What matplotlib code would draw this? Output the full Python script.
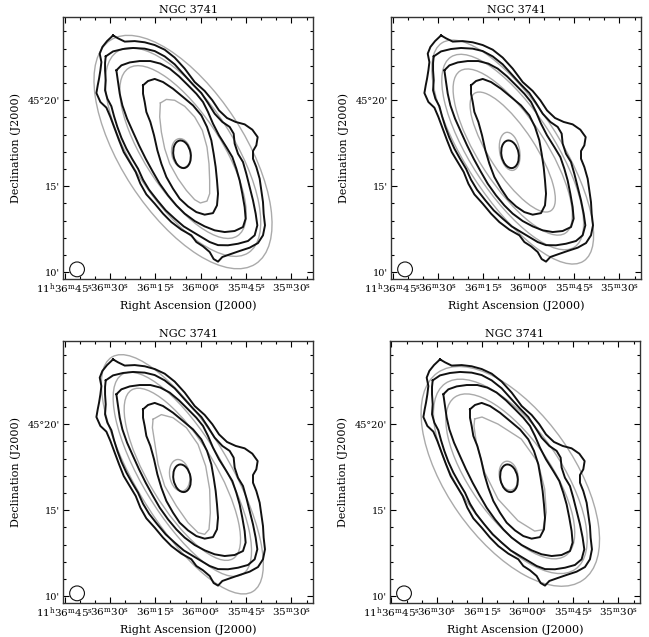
import numpy as np
import matplotlib
matplotlib.use("Agg")
import matplotlib.pyplot as plt
from matplotlib.patches import Ellipse, Circle
from matplotlib.ticker import MultipleLocator

# RA in seconds of time relative to 11h36m00s, Dec in arcmin above +45d00'
DEC0 = 45.28
SEC_TO_ARCMIN = 15 * np.cos(np.radians(DEC0)) / 60

RA_TICKS = [45, 30, 15, 0, -15, -30]
RA_LABELS = [r"11$^{\rm h}$36$^{\rm m}$45$^{\rm s}$", r"36$^{\rm m}$30$^{\rm s}$",
             r"36$^{\rm m}$15$^{\rm s}$", r"36$^{\rm m}$00$^{\rm s}$",
             r"35$^{\rm m}$45$^{\rm s}$", r"35$^{\rm m}$30$^{\rm s}$"]
DEC_TICKS = [10, 15, 20]
DEC_LABELS = ["10'", "15'", "45\u00b020'"]
RA_LIM = (45.47, -37.1)
DEC_LIM = (9.61, 24.84)

# observed HI contours (same in every panel)
OBS1_RA = [28.96, 27.31, 25.10, 21.80, 18.50, 15.19, 11.89, 8.59, 5.28, 1.98, -1.32, -3.85,
           -6.06, -8.70, -11.56, -14.53, -17.07, -18.83, -18.39, -17.29, -17.29, -18.39,
           -19.49, -20.04, -20.59, -20.81, -21.25, -20.59, -18.94, -16.18, -12.88, -9.58,
           -7.16, -5.73, -4.29, -2.97, -0.77, 1.43, 3.08, 6.39, 9.69, 12.44, 15.19, 17.95,
           19.93, 21.47, 23.45, 25.43, 26.97, 28.41, 29.84, 31.16, 33.14, 34.46, 34.02,
           33.58, 33.14, 32.81, 33.36, 32.48, 30.94]
OBS1_DEC = [23.77, 23.60, 23.41, 23.44, 23.37, 23.21, 22.94, 22.48, 21.84, 21.06, 20.54, 20.00,
            19.41, 18.97, 18.74, 18.60, 18.29, 17.86, 17.38, 17.05, 16.60, 16.12,
            15.44, 14.76, 14.08, 13.41, 12.73, 12.15, 11.70, 11.43, 11.24, 11.04,
            10.89, 10.62, 10.77, 11.18, 11.51, 11.76, 12.15, 12.48, 12.92, 13.41, 13.99, 14.53,
            15.15, 15.83, 16.41, 16.99, 17.67, 18.35, 19.03, 19.57, 19.90, 20.42, 20.87,
            21.26, 21.74, 22.22, 22.71, 23.10, 23.44]

OBS2_RA = [31.38, 28.96, 25.65, 22.35, 18.50, 15.19, 11.89, 8.59, 5.62, 2.53, -0.22, -2.42,
           -4.62, -7.16, -9.58, -10.90, -11.23, -12.33, -13.98, -15.08, -16.18, -17.29,
           -18.17, -18.72, -17.84, -15.63, -12.33, -9.03, -5.73, -2.97, -0.22, 2.53, 5.62,
           8.59, 11.56, 14.31, 17.07, 19.05, 20.70, 22.68, 24.55, 26.20, 27.53, 28.63,
           29.51, 30.83, 31.60, 31.38, 31.60, 31.60]
OBS2_DEC = [22.55, 22.84, 22.98, 23.04, 23.00, 22.86, 22.55, 22.09, 21.51, 20.91, 20.42, 19.84,
            19.22, 18.74, 18.45, 18.06, 17.48, 16.89, 16.41, 15.73, 14.96, 14.18,
            13.41, 12.73, 12.15, 11.82, 11.66, 11.57, 11.58, 11.76, 12.05, 12.34, 12.67,
            13.12, 13.60, 14.18, 14.80, 15.38, 16.02, 16.60, 17.19, 17.82, 18.45, 19.07,
            19.65, 20.09, 20.58, 21.16, 21.74, 22.17]

OBS3_RA = [27.86, 26.20, 23.45, 20.15, 16.63, 13.32, 10.24, 7.16, 4.18, 1.43, -0.77, -2.42,
           -4.07, -6.06, -8.48, -10.46, -11.78, -12.88, -13.76, -14.53, -14.86, -13.98,
           -11.23, -7.93, -4.62, -1.32, 1.98, 5.28, 8.04, 10.79, 13.54, 15.96, 18.17,
           20.37, 22.35, 24.33, 25.87, 26.75, 27.31]
OBS3_DEC = [21.74, 22.03, 22.20, 22.28, 22.28, 22.13, 21.84, 21.39, 20.87, 20.38, 19.90, 19.32,
            18.64, 17.96, 17.28, 16.70, 16.02, 15.34, 14.57, 13.79, 13.12, 12.63,
            12.40, 12.34, 12.44, 12.67, 12.98, 13.41, 13.89, 14.47, 15.15, 15.89, 16.60,
            17.38, 18.15, 18.93, 19.70, 20.38, 21.06]

OBS4_RA = [19.05, 17.40, 15.19, 12.44, 9.14, 5.84, 2.53, -0.22, -2.09, -3.52, -4.29, -4.95,
           -5.39, -5.73, -5.39, -4.07, -1.32, 1.43, 4.18, 6.94, 9.14, 11.34, 12.99, 14.31,
           15.41, 16.63, 17.95, 18.50, 19.05]
OBS4_DEC = [20.87, 21.12, 21.24, 21.06, 20.67, 20.19, 19.70, 19.12, 18.45, 17.67, 16.89, 16.12,
            15.34, 14.57, 13.89, 13.44, 13.35, 13.50, 13.83, 14.28, 14.86, 15.54, 16.31, 17.09,
            17.96, 18.74, 19.32, 19.90, 20.38]

# innermost observed contour: centre RA (s), Dec ('), semi-major ('), semi-minor ('), PA (deg)
OBS_CORE = (6.17, 16.86, 0.81, 0.50, 10)

# model contours per panel: ellipses (RA, Dec, a, b, PA) plus the inner boxy contour
MODEL1_ELLIPSES = [(5.84, 16.99, 7.75, 3.57, 33), (5.84, 16.99, 6.98, 2.91, 33),
                   (5.84, 16.99, 5.81, 2.23, 33), (6.39, 16.93, 0.85, 0.56, 10)]
MODEL1_INNER_RA = [13.32, 11.34, 8.59, 5.28, 1.98, -0.55, -2.09, -2.75, -2.97, -2.97, -2.09,
                   0.11, 1.98, 4.73, 7.49, 10.24, 11.89, 12.99, 13.54]
MODEL1_INNER_DEC = [19.84, 20.05, 20.00, 19.65, 19.03, 18.25, 17.28, 16.31, 15.34, 14.57, 14.14,
                    14.03, 14.22, 14.76, 15.44, 16.31, 17.19, 18.15, 19.03]

MODEL2_ELLIPSES = [(5.28, 16.99, 7.56, 2.71, 33), (5.28, 16.99, 6.59, 2.42, 33),
                   (5.28, 16.99, 5.62, 1.94, 33), (5.28, 16.99, 4.07, 1.32, 33),
                   (6.28, 17.03, 1.12, 0.58, 10)]

MODEL3_ELLIPSES = [(6.06, 17.09, 7.95, 2.71, 31), (6.06, 17.09, 6.78, 2.33, 31),
                   (6.06, 17.09, 5.72, 1.94, 31), (6.94, 17.03, 0.93, 0.58, 10)]
MODEL3_INNER_RA = [15.74, 12.99, 9.14, 4.73, 0.88, -1.65, -2.97, -3.19, -2.75, -1.32, 0.88,
                   4.18, 8.04, 11.89, 14.09, 15.19, 15.96]
MODEL3_INNER_DEC = [20.29, 20.56, 20.38, 19.80, 18.83, 17.57, 16.22, 14.86, 13.89, 13.60, 13.70,
                    14.28, 15.25, 16.41, 17.67, 18.93, 19.80]

MODEL4_ELLIPSES = [(5.73, 16.97, 7.36, 3.68, 35), (5.73, 16.97, 6.59, 2.91, 35),
                   (5.73, 16.97, 5.62, 2.33, 35), (6.28, 17.01, 0.85, 0.54, 10)]
MODEL4_INNER_RA = [17.51, 15.08, 9.80, 2.09, -3.41, -5.62, -6.17, -5.06, -2.31, 3.19, 9.80,
                   14.20, 16.96, 17.73]
MODEL4_INNER_DEC = [20.31, 20.42, 20.01, 19.14, 17.79, 16.24, 14.88, 13.87, 13.79, 14.39, 15.65,
                    17.20, 18.95, 19.88]

BEAM = (40.85, 10.17, 0.43)  # RA (s), Dec ('), radius (')

BLACK = "#111111"
GREY = "#aaaaaa"

plt.rcParams["font.family"] = "DejaVu Serif"
plt.rcParams["mathtext.fontset"] = "dejavuserif"


def proj(ra):
    return np.asarray(ra, dtype=float) * SEC_TO_ARCMIN


def closed_line(ax, ra, dec, color, lw):
    x = proj(ra)
    y = np.asarray(dec, dtype=float)
    ax.plot(np.append(x, x[0]), np.append(y, y[0]), color=color, lw=lw,
            solid_joinstyle="round", zorder=3 if color == BLACK else 2)


def add_ellipse(ax, params, color, lw):
    ra, dec, a, b, pa = params
    ax.add_patch(Ellipse((proj(ra), dec), width=2 * b, height=2 * a, angle=-pa,
                         fill=False, ec=color, lw=lw, zorder=3 if color == BLACK else 2))


def panel(rect, ellipses, inner=None):
    ax = fig.add_axes(rect)
    for e in ellipses:
        add_ellipse(ax, e, GREY, 1.0)
    if inner is not None:
        closed_line(ax, inner[0], inner[1], GREY, 1.0)
    for ra, dec in [(OBS1_RA, OBS1_DEC), (OBS2_RA, OBS2_DEC),
                    (OBS3_RA, OBS3_DEC), (OBS4_RA, OBS4_DEC)]:
        closed_line(ax, ra, dec, BLACK, 1.4)
    add_ellipse(ax, OBS_CORE, BLACK, 1.4)
    ax.add_patch(Circle((proj(BEAM[0]), BEAM[1]), BEAM[2], fill=False, ec=BLACK, lw=0.8))

    ax.set_xlim(proj(RA_LIM))
    ax.set_ylim(DEC_LIM)
    ax.set_aspect("equal")
    ax.set_xticks(proj(RA_TICKS))
    ax.set_xticklabels(RA_LABELS)
    ax.xaxis.set_minor_locator(MultipleLocator(5 * SEC_TO_ARCMIN))
    ax.set_yticks(DEC_TICKS)
    ax.set_yticklabels(DEC_LABELS)
    ax.yaxis.set_minor_locator(MultipleLocator(1))
    ax.tick_params(which="both", direction="in", top=True, right=True, pad=2, width=0.8)
    ax.tick_params(axis="x", labelsize=7.5)
    ax.tick_params(axis="y", labelsize=7)
    ax.tick_params(which="major", length=4.5)
    ax.tick_params(which="minor", length=2.5)
    for s in ax.spines.values():
        s.set_linewidth(1.0)
        s.set_color("#333333")
    ax.set_title("NGC 3741", fontsize=8, pad=3)
    ax.set_xlabel("Right Ascension (J2000)", fontsize=8, labelpad=3)
    ax.set_ylabel("Declination (J2000)", fontsize=8, labelpad=5)
    return ax


fig = plt.figure(figsize=(6.49, 6.37), dpi=100)
W, H = 0.3852, 0.4113
panel([0.0971, 0.5620, W, H], MODEL1_ELLIPSES, (MODEL1_INNER_RA, MODEL1_INNER_DEC))
panel([0.6025, 0.5620, W, H], MODEL2_ELLIPSES)
panel([0.0971, 0.0534, W, H], MODEL3_ELLIPSES, (MODEL3_INNER_RA, MODEL3_INNER_DEC))
panel([0.6009, 0.0534, W, H], MODEL4_ELLIPSES, (MODEL4_INNER_RA, MODEL4_INNER_DEC))

fig.savefig("out.png", dpi=100)
